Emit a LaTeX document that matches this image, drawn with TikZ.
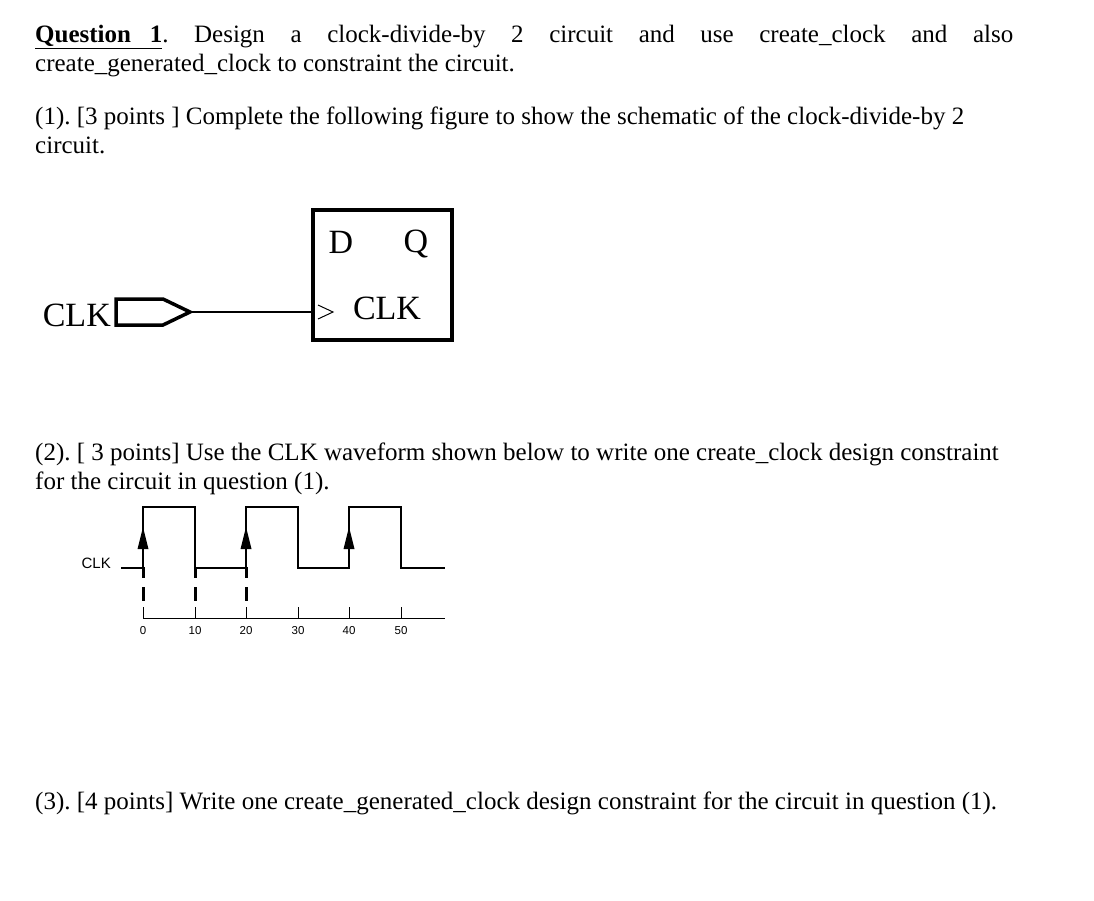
\documentclass[tikz,border=0pt]{standalone}
\usepackage{fontspec}
\setmainfont{Liberation Serif}
\setsansfont{Liberation Sans}
\begin{document}
\begin{tikzpicture}[x=1pt,y=-1pt,
  para/.style={anchor=north west,inner sep=0pt,text width=978pt,align=justify,font=\fontsize{25}{29}\selectfont},
  lbl/.style={inner sep=0pt,font=\fontsize{34}{34}\selectfont},
  wave/.style={line width=1.6pt},
  dsh/.style={line width=3pt},
  tk/.style={inner sep=0pt,font=\sffamily\fontsize{11.5}{12}\selectfont}]
\useasboundingbox (0,0) rectangle (1094,900);
\node[para] (q) at (35,25) {\textbf{\underline{Question\ \ \ 1}}.\ \ Design\ \ a\ \ clock-divide-by\ \ 2\ \ circuit\ \ and\ \ use\ \ create\_clock\ \ and\ \ also\linebreak create\_generated\_clock to constraint the circuit.};
\node[para] (p1) at (35,107) {(1).\ [3 points ] Complete the following figure to show the schematic of the clock-divide-by 2\\ circuit.};
\node[para] (p2) at (35,443) {(2).\ [ 3 points] Use the CLK waveform shown below to write one create\_clock design constraint\\ for the circuit in question (1).};
\node[para] (p3) at (35,792) {(3).\ [4 points] Write one create\_generated\_clock design constraint for the circuit in question (1).};
% flip-flop
\draw[line width=3.5pt] (313,210) rectangle (452,340);
\coordinate (ffbox) at (313,312);
\node[lbl] (d) at (341,242) {D};
\node[lbl] (qq) at (416,244) {Q};
\node[lbl] (ck) at (387,308) {CLK};
\draw[line width=1pt] (318,305) -- (333,312) -- (318,319);
% input port
\node[lbl,anchor=east] (inclk) at (111,315) {CLK};
\draw[line width=3.5pt,line join=miter] (116,299) -- (163,299) -- (190,312) -- (163,325) -- (116,325) -- cycle;
\coordinate (tip) at (190,312);
\draw[line width=2.5pt] (tip) -- (ffbox);
% waveform
\node[inner sep=0pt,anchor=east,font=\sffamily\fontsize{15}{15}\selectfont] (wclk) at (111,563) {CLK};
\draw[wave] (121,568) -- (143,568) -- (143,507) -- (195,507) -- (195,568) -- (246,568) -- (246,507) -- (298,507) -- (298,568) -- (349,568) -- (349,507) -- (401,507) -- (401,568) -- (445,568);
\foreach \x in {143,246,349}{
  \fill (\x,527) -- (\x-5.5,549) -- (\x+5.5,549) -- cycle;}
\foreach \x in {143,195,246}{
  \draw[dsh] (\x,567) -- (\x,578);
  \draw[dsh] (\x,587) -- (\x,601);}
\draw[line width=0.6pt] (143,618) -- (445,618);
\foreach \x/\t in {143/0,195/10,246/20,298/30,349/40,401/50}{
  \draw[line width=0.6pt] (\x,607) -- (\x,618);
  \node[tk] at (\x,631) {\t};}
\end{tikzpicture}
\end{document}
